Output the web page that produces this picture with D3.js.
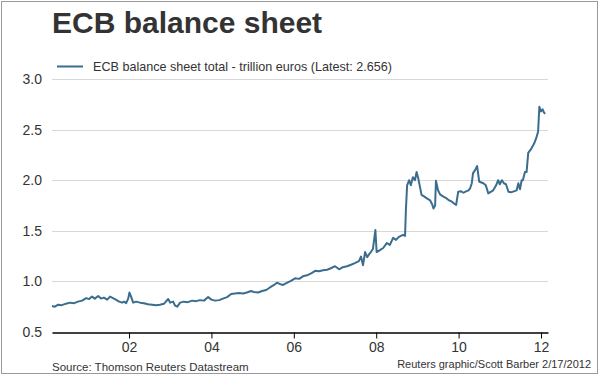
<!DOCTYPE html>
<html>
<head>
<meta charset="utf-8">
<script src="https://cdn.jsdelivr.net/npm/d3@7"></script>
<style>
  body { margin: 0; background: #fff; }
  svg { display: block; font-family: "Liberation Sans", Arial, sans-serif; }
</style>
</head>
<body>
<svg id="chart" width="600" height="376"></svg>
<script>
// dates as decimal years, values in trillion euros
const years = [
  2000.13, 2000.2, 2000.28, 2000.37, 2000.47, 2000.57, 2000.67, 2000.76, 2000.86, 2000.96,
  2001.03, 2001.1, 2001.17, 2001.25, 2001.32, 2001.39, 2001.47, 2001.54, 2001.61, 2001.68,
  2001.76, 2001.83, 2001.88, 2001.93, 2001.98, 2002.01, 2002.05, 2002.1, 2002.17, 2002.27,
  2002.36, 2002.46, 2002.56, 2002.66, 2002.75, 2002.85, 2002.95, 2003.0, 2003.07, 2003.12,
  2003.17, 2003.24, 2003.33, 2003.43, 2003.53, 2003.63, 2003.72, 2003.82, 2003.92, 2004.0,
  2004.09, 2004.19, 2004.28, 2004.38, 2004.48, 2004.57, 2004.67, 2004.77, 2004.86, 2004.96,
  2005.03, 2005.13, 2005.23, 2005.33, 2005.42, 2005.52, 2005.59, 2005.66, 2005.74, 2005.83,
  2005.93, 2006.03, 2006.13, 2006.22, 2006.32, 2006.42, 2006.52, 2006.61, 2006.71, 2006.81,
  2006.9, 2007.0, 2007.1, 2007.19, 2007.29, 2007.39, 2007.48, 2007.58, 2007.63, 2007.68,
  2007.73, 2007.78, 2007.83, 2007.87, 2007.92, 2007.98, 2008.01, 2008.09, 2008.17, 2008.26,
  2008.33, 2008.41, 2008.48, 2008.55, 2008.65, 2008.7, 2008.72, 2008.75, 2008.8, 2008.84,
  2008.89, 2008.94, 2008.98, 2009.02, 2009.1, 2009.16, 2009.23, 2009.31, 2009.36, 2009.39,
  2009.43, 2009.45, 2009.5, 2009.55, 2009.62, 2009.71, 2009.77, 2009.83, 2009.89, 2009.94,
  2009.99, 2010.06, 2010.12, 2010.18, 2010.24, 2010.28, 2010.32, 2010.35, 2010.4, 2010.45,
  2010.5, 2010.54, 2010.6, 2010.66, 2010.72, 2010.76, 2010.84, 2010.91, 2010.96, 2011.0,
  2011.05, 2011.1, 2011.15, 2011.21, 2011.27, 2011.34, 2011.41, 2011.45, 2011.49, 2011.53,
  2011.56, 2011.61, 2011.65, 2011.69, 2011.77, 2011.83, 2011.88, 2011.93, 2011.96, 2012.0,
  2012.04, 2012.07, 2012.1
];
const totals = [
  0.757, 0.75, 0.77, 0.765, 0.78, 0.79, 0.785, 0.80, 0.81, 0.835,
  0.825, 0.85, 0.83, 0.855, 0.83, 0.84, 0.82, 0.85, 0.835, 0.82,
  0.80, 0.79, 0.80, 0.785, 0.83, 0.89, 0.85, 0.79, 0.80, 0.79,
  0.785, 0.775, 0.77, 0.765, 0.77, 0.78, 0.826, 0.79, 0.80, 0.76,
  0.75, 0.79, 0.80, 0.795, 0.81, 0.805, 0.815, 0.81, 0.845, 0.82,
  0.81, 0.815, 0.83, 0.845, 0.875, 0.88, 0.885, 0.88, 0.89, 0.905,
  0.895, 0.89, 0.905, 0.915, 0.94, 0.965, 0.987, 0.975, 0.965, 0.985,
  1.005, 1.03, 1.025, 1.05, 1.06, 1.08, 1.105, 1.10, 1.11, 1.115,
  1.13, 1.15, 1.12, 1.14, 1.15, 1.165, 1.18, 1.20, 1.245, 1.16,
  1.29, 1.24, 1.27, 1.29, 1.32, 1.508, 1.29, 1.31, 1.33, 1.38,
  1.36, 1.43, 1.41, 1.44, 1.46, 1.45, 1.70, 1.95, 2.0, 1.95,
  2.03, 2.00, 2.08, 2.02, 1.855, 1.84, 1.82, 1.80, 1.76, 1.72,
  1.75, 1.995, 1.90, 1.86, 1.84, 1.82, 1.80, 1.79, 1.77, 1.755,
  1.886, 1.89, 1.876, 1.89, 1.90, 1.92, 1.97, 2.07, 2.10, 2.14,
  1.985, 1.98, 1.97, 1.95, 1.87, 1.88, 1.90, 1.95, 2.0, 1.96,
  2.0, 1.97, 1.96, 1.886, 1.88, 1.89, 1.90, 1.97, 1.91, 2.0,
  2.0, 2.08, 2.08, 2.27, 2.315, 2.36, 2.41, 2.48, 2.726, 2.68,
  2.70, 2.67, 2.656
];
const yTicks = [0.5, 1.0, 1.5, 2.0, 2.5, 3.0];
const xTicks = [2002, 2004, 2006, 2008, 2010, 2012];

const title = "ECB balance sheet";
const legendLabel = "ECB balance sheet total - trillion euros (Latest: 2.656)";
const sourceText = "Source: Thomson Reuters Datastream";
const creditText = "Reuters graphic/Scott Barber 2/17/2012";

const svg = d3.select("#chart");
const lineColor = "#3b6d8e";
const margin = {left: 52, right: 52, top: 79, bottom: 44};
const W = 600, H = 376;

const x = d3.scaleLinear()
    .domain([2000.13, 2012.17])
    .range([margin.left, W - margin.right]);
const y = d3.scaleLinear()
    .domain([0.5, 3.0])
    .range([332, 79]);

// frame
svg.append("rect")
    .attr("x", 1.5).attr("y", 1.5)
    .attr("width", 596).attr("height", 372)
    .attr("fill", "#fff")
    .attr("stroke", "#9a9a9a");

// title
svg.append("text")
    .attr("x", 52).attr("y", 33)
    .attr("font-size", 30).attr("font-weight", "bold")
    .attr("fill", "#333")
    .text(title);

// legend
svg.append("line")
    .attr("x1", 57).attr("x2", 83)
    .attr("y1", 66.5).attr("y2", 66.5)
    .attr("stroke", lineColor).attr("stroke-width", 2);
svg.append("text")
    .attr("x", 93).attr("y", 71)
    .attr("font-size", 12.6).attr("fill", "#333")
    .text(legendLabel);

// horizontal grid lines
svg.append("g")
    .selectAll("line")
    .data(yTicks.slice(1))
    .enter()
    .append("line")
    .attr("x1", x.range()[0]).attr("x2", x.range()[1])
    .attr("y1", d => Math.round(y(d)) + 0.5)
    .attr("y2", d => Math.round(y(d)) + 0.5)
    .attr("stroke", "#d8d8d8");

// y axis labels
const yAxis = d3.axisLeft(y)
    .tickValues(yTicks)
    .tickFormat(d3.format(".1f"))
    .tickSize(0)
    .tickPadding(10);
svg.append("g")
    .attr("transform", "translate(" + margin.left + ",0)")
    .call(yAxis)
    .call(g => g.select(".domain").remove())
    .call(g => g.selectAll("text")
        .attr("font-size", 14)
        .attr("font-family", "Liberation Sans, Arial, sans-serif")
        .attr("fill", "#333"));

// x axis
const xAxis = d3.axisBottom(x)
    .tickValues(xTicks)
    .tickFormat(d => String(d % 100).padStart(2, "0"))
    .tickSizeInner(6)
    .tickSizeOuter(0)
    .tickPadding(4);
svg.append("g")
    .attr("transform", "translate(0," + (y(0.5) + 0.5) + ")")
    .call(xAxis)
    .call(g => g.select(".domain").attr("stroke", "#000").attr("stroke-width", 1.3))
    .call(g => g.selectAll(".tick line").attr("stroke", "#000"))
    .call(g => g.selectAll("text")
        .attr("font-size", 14)
        .attr("font-family", "Liberation Sans, Arial, sans-serif")
        .attr("fill", "#333"));

// data line
const data = years.map((yr, i) => ({yr: yr, v: totals[i]}));
const line = d3.line()
    .x(d => x(d.yr))
    .y(d => y(d.v));
svg.append("path")
    .datum(data)
    .attr("d", line)
    .attr("fill", "none")
    .attr("stroke", lineColor)
    .attr("stroke-width", 2)
    .attr("stroke-linejoin", "round");

// footer
svg.append("text")
    .attr("x", 52).attr("y", 371)
    .attr("font-size", 11.5).attr("fill", "#333")
    .text(sourceText);
svg.append("text")
    .attr("x", 591).attr("y", 368)
    .attr("text-anchor", "end")
    .attr("font-size", 11).attr("fill", "#333")
    .text(creditText);
</script>
</body>
</html>
